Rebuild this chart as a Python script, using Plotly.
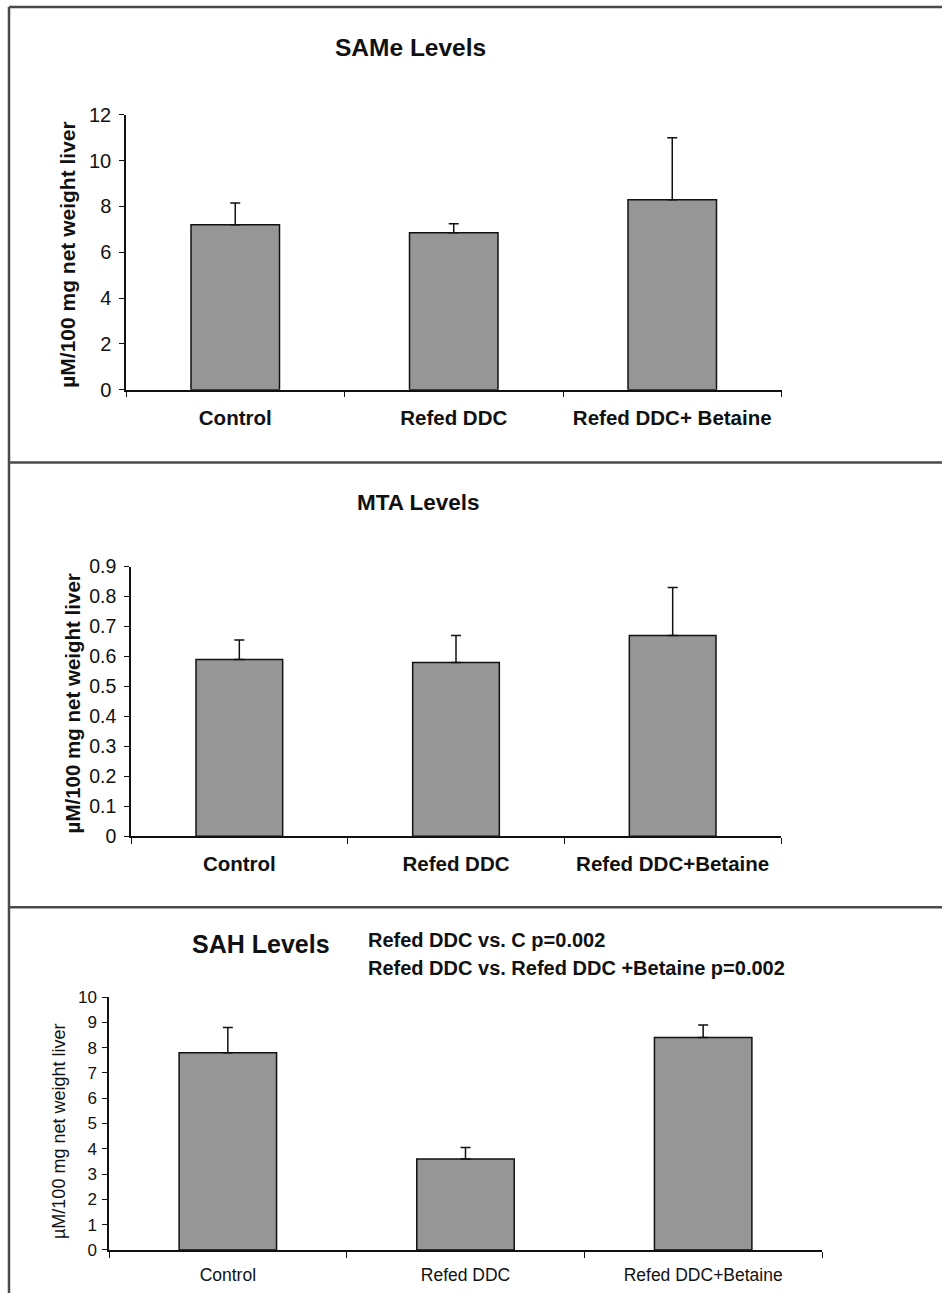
import plotly.graph_objects as go

# ---- data ----
categories_1 = ["Control", "Refed DDC", "Refed DDC+ Betaine"]
same_mean = [7.2, 6.85, 8.3]
same_err = [0.95, 0.4, 2.7]

categories_2 = ["Control", "Refed DDC", "Refed DDC+Betaine"]
mta_mean = [0.59, 0.58, 0.67]
mta_err = [0.065, 0.09, 0.16]

categories_3 = ["Control", "Refed DDC", "Refed DDC+Betaine"]
sah_mean = [7.8, 3.6, 8.4]
sah_err = [1.0, 0.45, 0.5]

same_ticks = [0, 2, 4, 6, 8, 10, 12]
mta_ticks = [0, 0.1, 0.2, 0.3, 0.4, 0.5, 0.6, 0.7, 0.8, 0.9]
mta_ticktext = ["0", "0.1", "0.2", "0.3", "0.4", "0.5", "0.6", "0.7", "0.8", "0.9"]
sah_ticks = list(range(0, 11))

W, H = 942, 1304
# vertical placement: layout positions below are page pixels; the page
# puts the figure a little lower and slightly shorter than its own pixels
Y_OFFSET, Y_SCALE = 10.0, 0.984
FONT = "Arial, Liberation Sans, sans-serif"
BAR_FILL = "#969696"


def px_x(x):
    return x / W


def px_y(y):
    f = (y - Y_OFFSET) / Y_SCALE
    return 1 - f / H


fig = go.Figure()


def add_panel(idx, cats, mean, err, width):
    fig.add_trace(go.Bar(
        x=cats, y=mean, width=width,
        marker=dict(color=BAR_FILL, line=dict(color="#111111", width=1.5)),
        error_y=dict(type="data", symmetric=False, array=err,
                     arrayminus=[0] * len(err), color="#111111",
                     thickness=1.5, width=5),
        xaxis="x" if idx == 1 else f"x{idx}",
        yaxis="y" if idx == 1 else f"y{idx}",
        showlegend=False,
        hoverinfo="x+y",
    ))


add_panel(1, categories_1, same_mean, same_err, 0.405)
add_panel(2, categories_2, mta_mean, mta_err, 0.40)
add_panel(3, categories_3, sah_mean, sah_err, 0.41)


def xaxis(domain, anchor, size, bold, standoff):
    return dict(
        domain=domain, anchor=anchor, type="category", range=[-0.5, 2.5],
        showline=True, linecolor="#111111", linewidth=1.5,
        ticks="outside", tickson="boundaries", ticklen=6, tickwidth=1.2,
        tickcolor="#111111", showgrid=False, zeroline=False,
        tickfont=dict(family=FONT, size=size, color="#111111",
                      weight="bold" if bold else "normal"),
        ticklabelstandoff=standoff, fixedrange=True,
    )


def yaxis(domain, anchor, rng, tickvals, ticktext, size, standoff):
    return dict(
        domain=domain, anchor=anchor, range=rng,
        tickvals=tickvals, ticktext=ticktext,
        showline=True, linecolor="#111111", linewidth=1.5,
        ticks="outside", ticklen=5, tickwidth=1.2, tickcolor="#111111",
        showgrid=False, zeroline=False,
        tickfont=dict(family=FONT, size=size, color="#111111"),
        ticklabelstandoff=standoff, fixedrange=True,
    )


layout = dict(
    width=W, height=H,
    margin=dict(l=0, r=0, t=0, b=0),
    paper_bgcolor="white", plot_bgcolor="white",
    xaxis=xaxis([px_x(126), px_x(781.5)], "y", 20.5, True, 9),
    yaxis=yaxis([px_y(389), px_y(114)], "x", [0, 12], same_ticks,
                [str(v) for v in same_ticks], 20, 4),
    xaxis2=xaxis([px_x(131), px_x(781)], "y2", 20.5, True, 8),
    yaxis2=yaxis([px_y(836), px_y(566)], "x2", [0, 0.9], mta_ticks,
                 mta_ticktext, 19.5, 4),
    xaxis3=xaxis([px_x(109), px_x(822)], "y3", 17.5, False, 8),
    yaxis3=yaxis([px_y(1250), px_y(997)], "x3", [0, 10], sah_ticks,
                 [str(v) for v in sah_ticks], 17, 2),
)
fig.update_layout(**layout)

# ---- titles and text ----
ann = []


def text(x, y, s, size, bold=True, angle=0, xanchor="center"):
    ann.append(dict(
        x=px_x(x), y=px_y(y), xref="paper", yref="paper", text=s,
        showarrow=False, textangle=angle, xanchor=xanchor, yanchor="middle",
        font=dict(family=FONT, size=size, color="#111111",
                  weight="bold" if bold else "normal"),
    ))


text(410, 47, "SAMe Levels", 24.5)
text(418, 502, "MTA Levels", 22.5)
text(261, 944, "SAH Levels", 25)
text(366, 940, "Refed DDC vs. C p=0.002", 20, xanchor="left")
text(366, 968, "Refed DDC vs. Refed DDC +Betaine p=0.002", 20, xanchor="left")

ytitle = "\u00b5M/100 mg net weight liver"
text(68, 254, ytitle, 21, angle=-90)
text(72, 703, ytitle, 20.5, angle=-90)
text(59, 1132, ytitle, 18, bold=False, angle=-90)
fig.update_layout(annotations=ann)

# ---- panel frame lines ----
shapes = []
frame_color = "#4a4a4a"
for y in (6, 462, 907):
    shapes.append(dict(type="line", xref="paper", yref="paper",
                       x0=px_x(9), x1=1, y0=px_y(y), y1=px_y(y),
                       line=dict(color=frame_color, width=2.5)))
shapes.append(dict(type="line", xref="paper", yref="paper",
                   x0=px_x(9), x1=px_x(9), y0=px_y(6), y1=0,
                   line=dict(color=frame_color, width=2.5)))
fig.update_layout(shapes=shapes)

fig.write_html("out.html")
